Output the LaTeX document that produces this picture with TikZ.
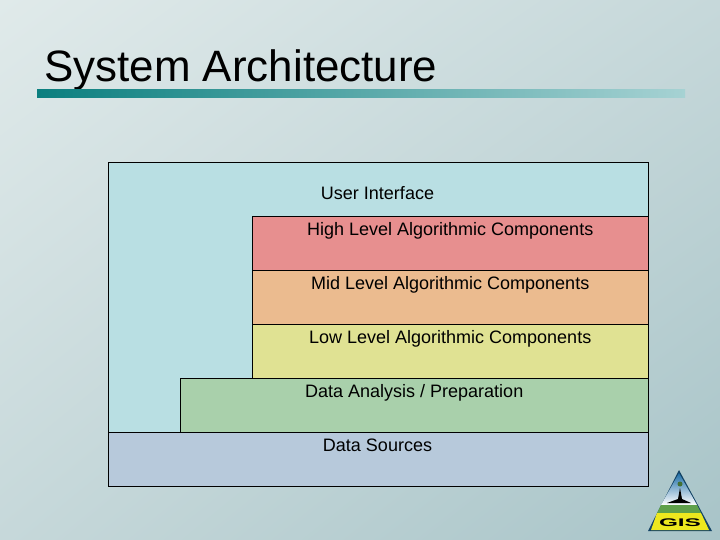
\documentclass[tikz,border=0pt]{standalone}
\usepackage{fontspec}
\setmainfont{Liberation Sans}
\usetikzlibrary{positioning,calc,shadings}
\definecolor{uiblue}{HTML}{B9DFE3}
\definecolor{highred}{HTML}{E78F8F}
\definecolor{midorange}{HTML}{EBBB8F}
\definecolor{lowyellow}{HTML}{E0E293}
\definecolor{datagreen}{HTML}{A9D0AB}
\definecolor{sourceblue}{HTML}{B7C9DB}
\definecolor{barleft}{HTML}{0B7F7F}
\definecolor{barright}{HTML}{A6D2D3}
\definecolor{backlight}{HTML}{E0EAEA}
\definecolor{backmid}{HTML}{C6D8DA}
\definecolor{backdark}{HTML}{A8C4C8}
\definecolor{logoblue}{HTML}{1F6FA8}
\definecolor{logogreen}{HTML}{5FA04A}
\definecolor{logoyellow}{HTML}{EDE81E}
\tikzset{
	layerbox/.style={draw=black,line width=0.4pt,inner sep=0pt,anchor=north east},
	layertext/.style={anchor=north,inner sep=0pt,font=\fontsize{10.25pt}{12pt}\selectfont,text height=7.4pt,text depth=2pt}
}
\begin{document}
\begin{tikzpicture}[x=0.02cm,y=-0.02cm]
	\useasboundingbox (0,0) rectangle (720,540);
	% Background
	\shade[upper left=backlight,upper right=backmid,lower left=backmid,lower right=backdark] (0,0) rectangle (720,540);
	
	% Title
	\node[anchor=west,inner sep=0pt,font=\fontsize{25pt}{30pt}\selectfont] (title) at (44,70.5) {System Architecture};
	\shade[left color=barleft,right color=barright] (37,90) rectangle (685,98);
	
	% Layers
	\node[layerbox,fill=uiblue,minimum width=10.8cm,minimum height=6.48cm] (ui) at (648.5,162.3) {};
	\node[layerbox,fill=highred,minimum width=7.92cm,minimum height=1.08cm] (high) at (648.5,216.3) {};
	\node[layerbox,fill=midorange,minimum width=7.92cm,minimum height=1.08cm] (mid) at (648.5,270.3) {};
	\node[layerbox,fill=lowyellow,minimum width=7.92cm,minimum height=1.08cm] (low) at (648.5,324.3) {};
	\node[layerbox,fill=datagreen,minimum width=9.36cm,minimum height=1.08cm] (analysis) at (648.5,378.3) {};
	\node[layerbox,fill=sourceblue,minimum width=10.8cm,minimum height=1.08cm] (sources) at (648.5,432.3) {};
	
	% Labels
	\node[layertext] (uilabel) at (377.5,186.5) {User Interface};
	\node[layertext] (highlabel) at ($(high.north)+(0,6)$) {High Level Algorithmic Components};
	\node[layertext] (midlabel) at ($(mid.north)+(0,6)$) {Mid Level Algorithmic Components};
	\node[layertext] (lowlabel) at ($(low.north)+(0,6)$) {Low Level Algorithmic Components};
	\node[layertext] (analysislabel) at ($(analysis.north)+(0,6)$) {Data Analysis / Preparation};
	\node[layertext] (sourceslabel) at ($(sources.north)+(-0.7,6)$) {Data Sources};
	
	% Logo
	\fill[logoblue!60!black] (679,470) -- (648,531) -- (712,531) -- cycle;
	\shade[top color=logoblue,bottom color=white] (679,473) -- (661,505) -- (697,505) -- cycle;
	\fill[logogreen] (661,505) -- (697,505) -- (701,513) -- (657,513) -- cycle;
	\fill[logoyellow] (657,513) -- (701,513) -- (709,530) -- (651,530) -- cycle;
	\fill[black] (678,499) -- (680,488) -- (682,499) -- (691,503) -- (667,503) -- cycle;
	\fill[logogreen!70!black] (680,484) circle (2.5);
	\node[inner sep=0pt,xscale=2.2,transform shape,font=\bfseries\fontsize{6.3pt}{7pt}\selectfont] (logotext) at (680,523) {GIS};
\end{tikzpicture}
\end{document}
